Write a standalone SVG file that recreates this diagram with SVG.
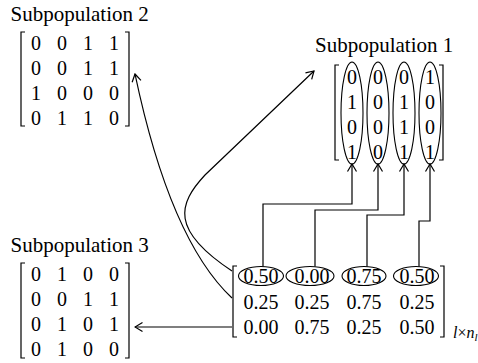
<svg xmlns="http://www.w3.org/2000/svg" width="478" height="363" viewBox="0 0 478 363">
<style>
text { font-family: "Liberation Serif", "Times New Roman", serif; fill: #000; }
.title { font-size: 21px; }
.num { font-size: 20px; text-anchor: middle; }
.br, .ln, .el { fill: none; stroke: #000; }
.br { stroke-width: 1.2; }
.ln { stroke-width: 1.2; }
.el { stroke-width: 1.1; }
.sub { font-size: 16px; font-style: italic; }
</style>
<defs>
<marker id="ah" viewBox="-9 -6 10 12" refX="0" refY="0" markerWidth="10" markerHeight="12" markerUnits="userSpaceOnUse" orient="auto">
<path d="M-7.5,-4.5 L0,0 L-7.5,4.5" fill="none" stroke="#000" stroke-width="1.2"/>
</marker>
</defs>
<rect width="478" height="363" fill="#fff"/>

<g id="subpop2">
<text class="title" x="10.5" y="21">Subpopulation 2</text>
<path class="br" d="M25,32 H21 V126 H25"/>
<path class="br" d="M125,32 H129 V126 H125"/>
<text class="num" y="50"><tspan x="36">0</tspan><tspan x="62">0</tspan><tspan x="88">1</tspan><tspan x="114">1</tspan></text>
<text class="num" y="75"><tspan x="36">0</tspan><tspan x="62">0</tspan><tspan x="88">1</tspan><tspan x="114">1</tspan></text>
<text class="num" y="100"><tspan x="36">1</tspan><tspan x="62">0</tspan><tspan x="88">0</tspan><tspan x="114">0</tspan></text>
<text class="num" y="125"><tspan x="36">0</tspan><tspan x="62">1</tspan><tspan x="88">1</tspan><tspan x="114">0</tspan></text>
</g>

<g id="subpop1">
<text class="title" x="315" y="52">Subpopulation 1</text>
<path class="br" d="M339,65 H335 V160 H339"/>
<path class="br" d="M439,65 H443 V160 H439"/>
<text class="num" y="84"><tspan x="352">0</tspan><tspan x="378">0</tspan><tspan x="404">0</tspan><tspan x="430">1</tspan></text>
<text class="num" y="109"><tspan x="352">1</tspan><tspan x="378">0</tspan><tspan x="404">1</tspan><tspan x="430">0</tspan></text>
<text class="num" y="134"><tspan x="352">0</tspan><tspan x="378">0</tspan><tspan x="404">1</tspan><tspan x="430">0</tspan></text>
<text class="num" y="159"><tspan x="352">1</tspan><tspan x="378">0</tspan><tspan x="404">1</tspan><tspan x="430">1</tspan></text>
<ellipse class="el" cx="352" cy="113" rx="11" ry="51"/>
<ellipse class="el" cx="378" cy="113" rx="11" ry="51"/>
<ellipse class="el" cx="404" cy="113" rx="11" ry="51"/>
<ellipse class="el" cx="430" cy="113" rx="11" ry="51"/>
</g>

<g id="subpop3">
<text class="title" x="10.5" y="252">Subpopulation 3</text>
<path class="br" d="M25,263 H21 V358 H25"/>
<path class="br" d="M125,263 H129 V358 H125"/>
<text class="num" y="281"><tspan x="36">0</tspan><tspan x="62">1</tspan><tspan x="88">0</tspan><tspan x="114">0</tspan></text>
<text class="num" y="306"><tspan x="36">0</tspan><tspan x="62">0</tspan><tspan x="88">1</tspan><tspan x="114">1</tspan></text>
<text class="num" y="331"><tspan x="36">0</tspan><tspan x="62">1</tspan><tspan x="88">0</tspan><tspan x="114">1</tspan></text>
<text class="num" y="356"><tspan x="36">0</tspan><tspan x="62">1</tspan><tspan x="88">0</tspan><tspan x="114">0</tspan></text>
</g>

<g id="probmatrix">
<path class="br" d="M237,266 H233 V337 H237"/>
<path class="br" d="M440,266 H444 V337 H440"/>
<text class="num" y="283"><tspan x="261">0.50</tspan><tspan x="312">0.00</tspan><tspan x="364">0.75</tspan><tspan x="417">0.50</tspan></text>
<text class="num" y="309"><tspan x="261">0.25</tspan><tspan x="312">0.25</tspan><tspan x="364">0.75</tspan><tspan x="417">0.25</tspan></text>
<text class="num" y="334"><tspan x="261">0.00</tspan><tspan x="312">0.75</tspan><tspan x="364">0.25</tspan><tspan x="417">0.50</tspan></text>
<ellipse class="el" cx="261" cy="276" rx="22.5" ry="9.5"/>
<ellipse class="el" cx="310" cy="276" rx="24" ry="9.5"/>
<ellipse class="el" cx="364" cy="276" rx="22" ry="9.5"/>
<ellipse class="el" cx="416" cy="276" rx="22.5" ry="9.5"/>
<text class="sub" x="453" y="338">l<tspan font-style="normal">×</tspan>n<tspan font-size="11" dy="3">l</tspan></text>
</g>

<g id="connectors">
<path class="ln" d="M263,266.5 V204 H352 V164" marker-end="url(#ah)"/>
<path class="ln" d="M315,266.5 V210 H378 V164" marker-end="url(#ah)"/>
<path class="ln" d="M367,266.5 V215 H404 V164" marker-end="url(#ah)"/>
<path class="ln" d="M419,266.5 V221 H430 V164" marker-end="url(#ah)"/>
<path class="ln" d="M232,298 Q170,240 135,74" marker-end="url(#ah)"/>
<path class="ln" d="M232,271 C170,230 178,204 205,175 L314,71" marker-end="url(#ah)"/>
<path class="ln" d="M232,327 H135" marker-end="url(#ah)"/>
</g>
</svg>
